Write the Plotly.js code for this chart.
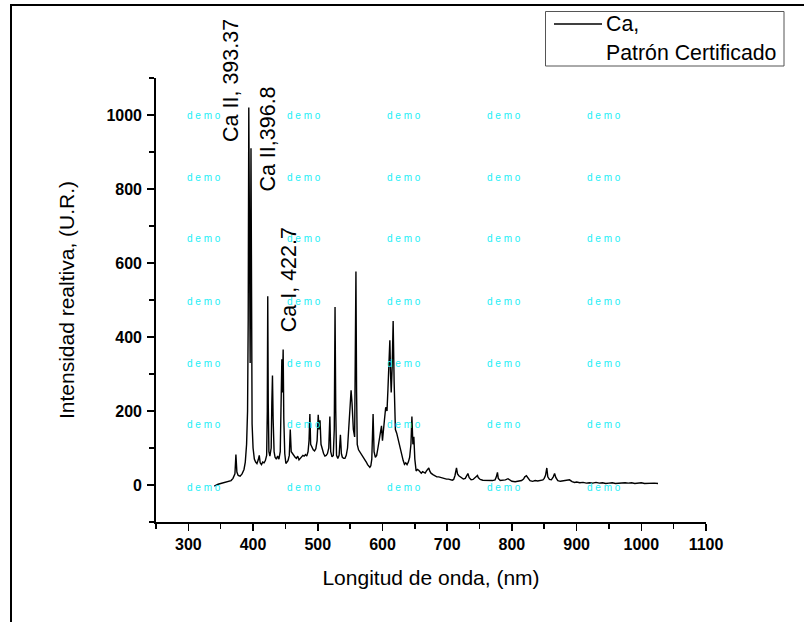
<!DOCTYPE html>
<html>
<head>
<meta charset="utf-8">
<script src="https://cdn.plot.ly/plotly-3.0.1.min.js"></script>
<style>
  html, body { margin: 0; padding: 0; background: #fff; }
  #chart { width: 804px; height: 622px; }
</style>
</head>
<body>
<div id="chart"></div>
<script>
// Wavelength (nm) and relative intensity (U.R.)
const wavelength = [
  340, 343, 346, 350, 354, 358, 362, 366, 369, 372, 373.5, 375, 377, 380, 383, 386, 388, 390, 391.5, 392.5,
  393.4, 394.3, 395.5, 396.8, 397.6, 398.5, 400, 402, 404, 406, 408, 409.6, 411, 413, 415, 417, 419, 421, 422, 422.7,
  423.5, 424.5, 426, 428, 429, 430, 431, 432.5, 434, 436, 438, 440, 442, 443.5, 444.5, 445.3, 446.5, 447.5, 449, 450.7,
  452, 454, 456, 457.5, 459, 461, 463, 465, 467, 469, 471, 473, 475, 477, 479, 481, 483, 485, 486.5, 487.8,
  489, 491, 493, 495, 497, 499, 500.7, 502, 503.5, 505, 507, 509, 511, 513, 515, 517, 518.7, 520, 522, 524,
  525.5, 526.7, 527.8, 529, 531, 533, 535, 536.5, 538, 540, 542, 544, 546, 548, 550, 551.5, 553, 555, 557, 558.2,
  559, 560, 561, 563, 565, 567, 569, 571, 573, 575, 577, 579, 580.5, 582, 583.5, 585.5, 587, 589, 591, 593,
  595, 597, 598.5, 600, 601.5, 603, 605, 607, 608.5, 610, 611.4, 612.5, 613.5, 615, 616.5, 618, 620, 622, 624, 626,
  628, 630, 632, 634, 636, 638, 640, 642, 644, 645.5, 647, 648.5, 650, 652, 654, 656, 658, 660, 662, 664,
  666, 668, 670, 671.6, 673, 675, 678, 681, 684, 687, 690, 693, 696, 699, 702, 705, 708, 710, 712, 714.4,
  716, 718, 720, 722, 725, 728, 730, 732, 734, 737, 740, 743, 745, 746.8, 748, 751, 755, 760, 765, 770,
  774, 776, 777.7, 779, 782, 786, 790, 794, 797, 800, 805, 810, 815, 818, 820, 822.5, 825, 828, 832, 836,
  840, 845, 848, 850, 852, 854, 855.5, 858, 861, 864, 866, 868, 871, 875, 880, 885, 889, 893, 897, 900,
  905, 910, 915, 920, 925, 930, 935, 940, 945, 950, 955, 960, 965, 970, 975, 980, 985, 990, 995, 1000,
  1005, 1010, 1015, 1020, 1025.8
];
const intensity = [
  -3, 0, 2, 4, 6, 8, 10, 12, 18, 30, 82, 35, 26, 24, 30, 42, 62, 110, 200, 450,
  1020, 380, 330, 910, 380, 165, 100, 70, 62, 58, 68, 80, 60, 55, 62, 60, 66, 80, 200, 510,
  220, 90, 78, 100, 220, 296, 180, 90, 75, 70, 78, 70, 90, 200, 340, 250, 366, 180, 85, 58,
  62, 66, 80, 150, 90, 84, 78, 75, 72, 78, 68, 72, 74, 80, 78, 82, 78, 90, 120, 192,
  110, 100, 95, 92, 98, 120, 190, 150, 175, 110, 95, 85, 78, 80, 85, 100, 185, 90, 76, 80,
  150, 481, 200, 80, 72, 80, 136, 85, 75, 72, 72, 80, 100, 150, 210, 256, 220, 150, 130, 300,
  577, 250, 110, 95, 90, 85, 80, 75, 68, 62, 55, 52, 48, 52, 70, 192, 90, 75, 80, 100,
  125, 150, 160, 120, 140, 175, 210, 200, 260, 330, 391, 300, 250, 320, 443, 280, 150, 140, 125, 110,
  95, 75, 66, 56, 60, 55, 62, 75, 110, 185, 110, 130, 70, 38, 42, 40, 35, 32, 36, 34,
  32, 38, 42, 46, 38, 32, 28, 25, 22, 22, 20, 18, 18, 16, 16, 14, 13, 15, 25, 46,
  30, 25, 22, 18, 16, 18, 24, 31, 20, 14, 15, 20, 24, 26, 20, 15, 13, 12, 13, 12,
  14, 22, 34, 18, 12, 12, 14, 17, 14, 10, 9, 10, 12, 16, 22, 25, 18, 12, 10, 12,
  11, 12, 14, 18, 26, 46, 22, 15, 14, 22, 31, 20, 12, 10, 11, 12, 14, 9, 7, 8,
  6, 7, 5, 6, 5, 7, 5, 6, 4, 5, 6, 4, 5, 7, 6, 5, 6, 4, 5, 6,
  4, 5, 4, 5, 4
];
const seriesName = 'Ca, Patrón Certificado';
const legendLines = ['Ca,', 'Patrón Certificado'];
const peakLabels = ['Ca II, 393.37', 'Ca II,396.8', 'Ca I, 422.7'];
const xTitle = 'Longitud de onda, (nm)';
const yTitle = 'Intensidad realtiva, (U.R.)';
const watermarkText = 'd e m o';

const FONT = '"Liberation Sans", Arial, sans-serif';

// plot-area geometry (pixels) for converting decorative elements to paper coords
const W = 804, H = 622;
const M = {l: 156, r: 98, t: 78, b: 100};
const PW = W - M.l - M.r, PH = H - M.t - M.b;
const px2paperX = px => (px - M.l) / PW;
const px2paperY = py => (H - M.b - py) / PH;

// watermark grid (decorative)
const wmCols = [204, 304, 404, 504, 604];
const wmRows = [115, 177, 239, 301, 363, 424, 487];
const annotations = [];
wmRows.forEach(r => wmCols.forEach(c => {
  annotations.push({
    xref: 'paper', yref: 'paper', x: px2paperX(c), y: px2paperY(r),
    text: watermarkText, showarrow: false, xanchor: 'center', yanchor: 'middle',
    font: {family: FONT, size: 10, color: '#22eef6'}
  });
}));

// peak labels (rotated)
const peakPos = [
  {x: 365.5, y: 1094},
  {x: 423, y: 936},
  {x: 455.5, y: 556}
];
peakLabels.forEach((t, i) => {
  annotations.push({
    x: peakPos[i].x, y: peakPos[i].y, xref: 'x', yref: 'y',
    text: t, textangle: -90, showarrow: false,
    xanchor: 'center', yanchor: 'middle',
    font: {family: FONT, size: 21.5, color: '#000'}
  });
});

// legend (drawn by hand so that it sits exactly where the reference has it)
const legendTextY = [24, 53];
legendLines.forEach((t, i) => {
  annotations.push({
    xref: 'paper', yref: 'paper', x: px2paperX(604), y: px2paperY(legendTextY[i]),
    text: t, showarrow: false, xanchor: 'left', yanchor: 'middle',
    font: {family: FONT, size: 21.3, color: '#000'}
  });
});

const trace = {
  x: wavelength, y: intensity, type: 'scatter', mode: 'lines',
  name: seriesName, showlegend: false,
  line: {color: '#000', width: 1.4}
};

const axisCommon = {
  showgrid: false, zeroline: false, showline: true, automargin: false,
  linecolor: '#000', linewidth: 1.8,
  ticks: 'outside', ticklen: 7, tickwidth: 1.5, tickcolor: '#000',
  tickfont: {family: FONT, size: 16, color: '#000', weight: 'bold'}
};

const layout = {
  width: W, height: H,
  margin: M,
  paper_bgcolor: '#fff', plot_bgcolor: '#fff',
  font: {family: FONT, color: '#000'},
  showlegend: false,
  xaxis: Object.assign({}, axisCommon, {
    range: [250, 1100], tick0: 0, dtick: 100,
    minor: {dtick: 50, ticks: 'outside', ticklen: 5, tickwidth: 1.5, tickcolor: '#000', showgrid: false},
    title: {text: xTitle, font: {family: FONT, size: 21, color: '#000'}, standoff: 18}
  }),
  yaxis: Object.assign({}, axisCommon, {
    range: [-100, 1100], tick0: 0, dtick: 200, ticklabelstandoff: 2,
    minor: {dtick: 100, ticks: 'outside', ticklen: 5, tickwidth: 1.5, tickcolor: '#000', showgrid: false},
    title: {text: yTitle, font: {family: FONT, size: 21, color: '#000'}, standoff: 26}
  }),
  annotations: annotations,
  shapes: [
    {
      type: 'rect', xref: 'paper', yref: 'paper',
      x0: px2paperX(11), x1: px2paperX(830), y0: px2paperY(660), y1: px2paperY(5),
      line: {color: '#000', width: 2}, fillcolor: 'rgba(0,0,0,0)', layer: 'below'
    },
    {
      // legend frame
      type: 'rect', xref: 'paper', yref: 'paper',
      x0: px2paperX(545.5), x1: px2paperX(784), y0: px2paperY(66), y1: px2paperY(11.5),
      line: {color: '#555', width: 1}, fillcolor: '#fff', layer: 'below'
    },
    {
      // legend line sample
      type: 'line', xref: 'paper', yref: 'paper',
      x0: px2paperX(554), x1: px2paperX(602), y0: px2paperY(24), y1: px2paperY(24),
      line: {color: '#000', width: 1.4}
    }
  ]
};

Plotly.newPlot('chart', [trace], layout, {displayModeBar: false, staticPlot: true});
</script>
</body>
</html>
